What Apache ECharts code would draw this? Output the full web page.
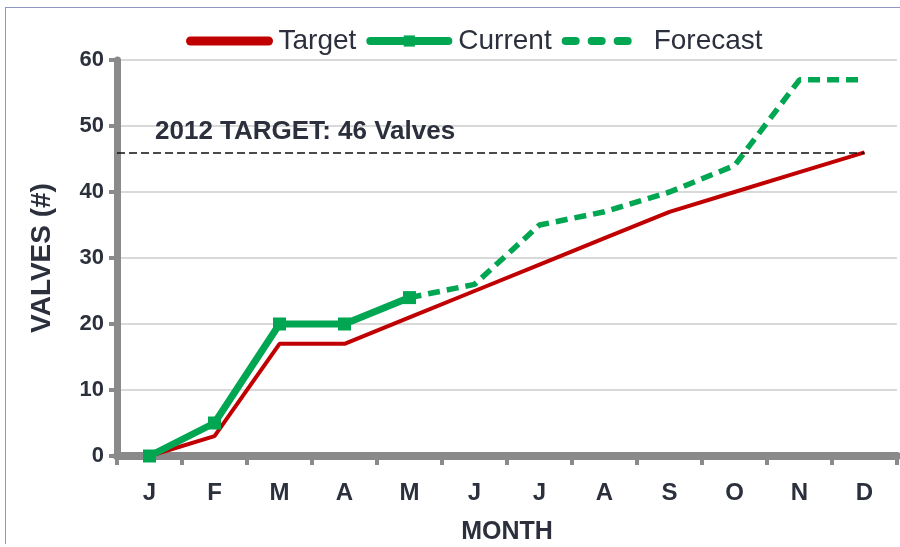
<!DOCTYPE html>
<html>
  <head>
    <meta charset="utf-8" />
    <script src="https://cdn.jsdelivr.net/npm/echarts@6/dist/echarts.min.js"></script>
  </head>
  <body>
    <style>
      html, body { margin: 0; width: 100%; height: 100%; overflow: hidden; background: #fff; }
      #frame { position: absolute; left: 5px; top: 7px; width: 900px; height: 536px;
               border-left: 1px solid #8e96c6; border-top: 1px solid #8e96c6; }
      #main { position: absolute; left: 0; top: 0; width: 900px; height: 547px; }
    </style>
    <div id="frame"></div>
    <div id="main"></div>
    <script type="text/javascript">
      // data
      var months = ['J', 'F', 'M', 'A', 'M', 'J', 'J', 'A', 'S', 'O', 'N', 'D'];
      var target = [0, 3, 17, 17, 21, 25, 29, 33, 37, 40, 43, 46];
      var current = [0, 5, 20, 20, 24, null, null, null, null, null, null, null];
      var forecast = [null, null, null, null, 24, 26, 35, 37, 40, 44, 57, 57];
      var goal = 46;
      var goalText = '2012 TARGET: 46 Valves';

      var txt = '#2b303c';
      var axisGray = '#8a8a8a';
      var red = '#c00000';
      var green = '#00a651';
      var font = 'Liberation Sans, Arial, sans-serif';
      var gridLeft = 117;

      var myChart = echarts.init(document.getElementById('main'));
      var option = {
        animation: false,
        textStyle: { fontFamily: font },
        grid: { left: gridLeft, right: 3, top: 60, bottom: 91, containLabel: false, outerBoundsMode: 'none' },
        legend: {
          top: 22,
          left: 181,
          itemWidth: 78,
          itemHeight: 14,
          itemGap: 10,
          textStyle: { fontSize: 28, color: txt, fontFamily: font, padding: [0, 0, 0, 5] },
          data: [
            { name: 'Target', itemStyle: { opacity: 0 }, lineStyle: { width: 9, cap: 'round', color: red } },
            { name: 'Current', lineStyle: { width: 8, cap: 'round', color: green } },
            { name: 'Forecast', itemStyle: { opacity: 0 }, lineStyle: { width: 8, cap: 'round', type: [10, 16], color: green } }
          ]
        },
        xAxis: {
          type: 'category',
          data: months,
          boundaryGap: true,
          name: 'MONTH',
          nameLocation: 'middle',
          nameGap: 64,
          nameTextStyle: { fontSize: 25, fontWeight: 'bold', color: txt },
          axisLine: { lineStyle: { color: axisGray, width: 8 } },
          axisTick: { show: true, length: 9, lineStyle: { color: axisGray, width: 4 } },
          axisLabel: { fontSize: 24, fontWeight: 'bold', color: txt, margin: 25 }
        },
        yAxis: {
          type: 'value',
          min: 0,
          max: 60,
          interval: 10,
          name: 'VALVES (#)',
          nameLocation: 'middle',
          nameRotate: 90,
          nameGap: 61,
          nameTextStyle: { fontSize: 28, fontWeight: 'bold', color: txt },
          axisLine: { show: true, lineStyle: { color: axisGray, width: 7 } },
          axisTick: { show: true, length: 8, lineStyle: { color: axisGray, width: 4 } },
          axisLabel: { fontSize: 22, fontWeight: 'bold', color: txt, margin: 13 },
          splitLine: { lineStyle: { color: '#d9d9d9', width: 2 } }
        },
        series: [
          {
            name: 'Target',
            type: 'line',
            data: target,
            symbol: 'none',
            z: 2,
            itemStyle: { color: red },
            lineStyle: { color: red, width: 4 },
            markLine: {
              silent: true,
              symbol: 'none',
              lineStyle: { color: '#111', type: [8, 4], width: 1.5 },
              label: {
                show: true,
                position: 'insideStartTop',
                formatter: goalText,
                fontSize: 26,
                fontWeight: 'bold',
                color: txt,
                distance: [38, 8]
              },
              data: [[{ x: gridLeft, yAxis: goal }, { xAxis: months.length - 1, yAxis: goal }]]
            }
          },
          {
            name: 'Forecast',
            type: 'line',
            data: forecast,
            symbol: 'none',
            z: 3,
            itemStyle: { color: green },
            lineStyle: { color: green, width: 5.5, type: [12, 7] }
          },
          {
            name: 'Current',
            type: 'line',
            data: current,
            symbol: 'rect',
            symbolSize: 13,
            z: 4,
            itemStyle: { color: green },
            lineStyle: { color: green, width: 7 }
          }
        ]
      };
      myChart.setOption(option);
    </script>
  </body>
</html>
